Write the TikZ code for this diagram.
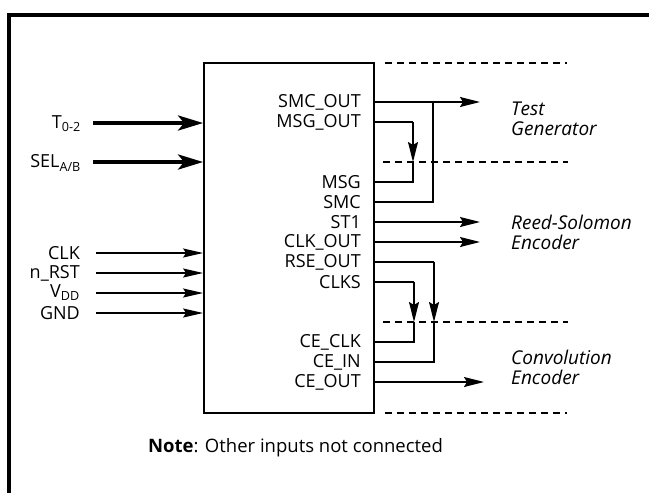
\documentclass[tikz,border=0pt]{standalone}
\usepackage{fontspec}
\setmainfont{Open Sans}
\usetikzlibrary{arrows.meta}
\begin{document}
\begin{tikzpicture}[x=1pt,y=-1pt,
  sig/.style={font=\fontsize{18}{19}\selectfont, anchor=east, inner sep=0pt},
  inlab/.style={font=\fontsize{18}{19}\selectfont, anchor=east, inner sep=0pt},
  blocklab/.style={font=\fontsize{19}{20}\selectfont\itshape, anchor=west, align=left, inner sep=0pt},
  wire/.style={line width=1.6pt},
  outarrow/.style={line width=1.6pt, -{Stealth[length=20pt,width=10pt,inset=3pt]}},
  downarrow/.style={line width=1.6pt, -{Stealth[length=20pt,width=10pt,inset=3pt]}},
  thickin/.style={line width=4pt, -{Stealth[length=25pt,width=15pt,inset=6pt]}},
  thinin/.style={line width=1.6pt, -{Stealth[length=20pt,width=9pt,inset=3pt]}},
  sep/.style={line width=1.4pt, dash pattern=on 7pt off 5pt},
]
\useasboundingbox (0,0) rectangle (649,493);
% frame
\draw[line width=4pt] (9,500) -- (9,14.5) -- (655,14.5);
% main block
\node[draw, line width=1.8pt, minimum width=170pt, minimum height=350pt, inner sep=0pt] (blk) at (289,238) {};
% separators
\coordinate (d1a) at (385,63);  \coordinate (d1b) at (567,63);
\coordinate (d2a) at (383,162); \coordinate (d2b) at (568,162);
\coordinate (d3a) at (383,322); \coordinate (d3b) at (568,322);
\coordinate (d4a) at (385,413); \coordinate (d4b) at (567,413);
\draw[sep] (d1a) -- (d1b);
\draw[sep] (d2a) -- (d2b);
\draw[sep] (d3a) -- (d3b);
\draw[sep] (d4a) -- (d4b);
% signal labels inside the block
\node[sig] (smcout) at (361,102) {SMC\_OUT};
\node[sig] (msgout) at (361,122) {MSG\_OUT};
\node[sig] (msg)    at (361,182) {MSG};
\node[sig] (smc)    at (361,202) {SMC};
\node[sig] (st1)    at (361,222) {ST1};
\node[sig] (clkout) at (361,242) {CLK\_OUT};
\node[sig] (rseout) at (361,262) {RSE\_OUT};
\node[sig] (clks)   at (361,282) {CLKS};
\node[sig] (ceclk)  at (361,342) {CE\_CLK};
\node[sig] (cein)   at (361,362) {CE\_IN};
\node[sig] (ceout)  at (361,382) {CE\_OUT};
% block labels on the right
\node[blocklab] (tg) at (511,119) {Test\\Generator};
\node[blocklab] (rs) at (511,232) {Reed-Solomon\\Encoder};
\node[blocklab] (ce) at (511,367) {Convolution\\Encoder};
% output targets
\coordinate (t1) at (480,102);
\coordinate (t2) at (480,222);
\coordinate (t3) at (480,242);
\coordinate (t4) at (484,382);
% bend points
\coordinate (b1) at (433,102);
\coordinate (b2) at (413,122);
\coordinate (b3) at (434,262);
\coordinate (b4) at (414,282);
% outputs
\draw[outarrow] (blk.east |- smcout) -- (t1);
\draw[wire] (b1) -- (b1 |- smc) -- (blk.east |- smc);
\draw[wire] (blk.east |- msgout) -- (b2);
\draw[downarrow] (b2) -- (b2 |- d2a);
\draw[wire] (b2 |- d2a) -- (b2 |- msg) -- (blk.east |- msg);
\draw[outarrow] (blk.east |- st1) -- (t2);
\draw[outarrow] (blk.east |- clkout) -- (t3);
\draw[wire] (blk.east |- rseout) -- (b3);
\draw[downarrow] (b3) -- (b3 |- d3a);
\draw[wire] (b3 |- d3a) -- (b3 |- cein) -- (blk.east |- cein);
\draw[wire] (blk.east |- clks) -- (b4);
\draw[downarrow] (b4) -- (b4 |- d3a);
\draw[wire] (b4 |- d3a) -- (b4 |- ceclk) -- (blk.east |- ceclk);
\draw[outarrow] (blk.east |- ceout) -- (t4);
% inputs
\node[inlab] (tin)   at (81,124) {T\textsubscript{0-2}};
\node[inlab] (sel)   at (81,163) {SEL\textsubscript{A/B}};
\node[inlab] (clk)   at (80,253) {CLK};
\node[inlab] (nrst)  at (80,273) {n\_RST};
\node[inlab] (vdd)   at (80,293) {V\textsubscript{DD}};
\node[inlab] (gnd)   at (80,313) {GND};
\coordinate (s1) at (93,123);
\coordinate (s2) at (93,162);
\coordinate (s3) at (96,253);
\coordinate (s4) at (96,273);
\coordinate (s5) at (96,293);
\coordinate (s6) at (96,313);
\draw[thickin] (s1) -- (s1 -| blk.west);
\draw[thickin] (s2) -- (s2 -| blk.west);
\draw[thinin] (s3) -- (s3 -| blk.west);
\draw[thinin] (s4) -- (s4 -| blk.west);
\draw[thinin] (s5) -- (s5 -| blk.west);
\draw[thinin] (s6) -- (s6 -| blk.west);
% note
\node[font=\fontsize{18.5}{19}\selectfont, anchor=west, inner sep=0pt] (note) at (148,448) {\textbf{Note}: Other inputs not connected};
\end{tikzpicture}
\end{document}
